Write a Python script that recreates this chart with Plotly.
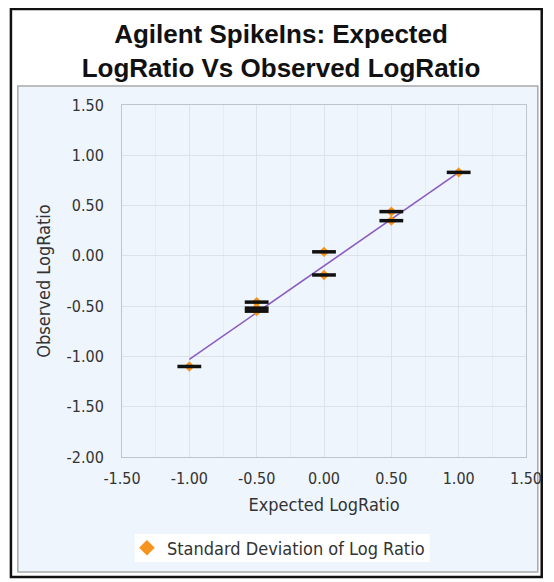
import plotly.graph_objects as go

# ---- data ----
expected = [-1.0, -0.5, -0.5, -0.5, 0.0, 0.0, 0.5, 0.5, 1.0]
observed = [-1.10, -0.46, -0.52, -0.55, 0.04, -0.19, 0.44, 0.35, 0.83]
fit_x = [-1.0, 1.0]
fit_y = [-1.03, 0.83]
x_ticks = [-1.5, -1.0, -0.5, 0.0, 0.5, 1.0, 1.5]
y_ticks = [1.5, 1.0, 0.5, 0.0, -0.5, -1.0, -1.5, -2.0]

# page body has an 8px margin, so lay out in "screen" pixels shifted by OFF
OFF = 8
W, H = 554 - OFF, 582 - OFF
PX0, PX1, PY0, PY1 = 122, 533, 105, 457          # plot area on screen
L, R, T, B = PX0 - OFF, W - (PX1 - OFF), PY0 - OFF, H - (PY1 - OFF)
pw, ph = W - L - R, H - T - B


def px(x):
    return (x - OFF - L) / pw


def py(y):
    return (H - B - (y - OFF)) / ph


FONT = "DejaVu Sans Condensed, DejaVu Sans, sans-serif"

fig = go.Figure()

fig.add_trace(go.Scatter(
    x=fit_x, y=fit_y, mode="lines",
    line=dict(color="#8a5cc2", width=1.6),
    showlegend=False, hoverinfo="skip"))

fig.add_trace(go.Scatter(
    x=expected, y=observed, mode="markers",
    name="Standard Deviation of Log Ratio",
    marker=dict(symbol="diamond", size=8, color="#f7941d",
                line=dict(width=0))))

fig.add_trace(go.Scatter(
    x=expected, y=observed, mode="markers",
    marker=dict(symbol="line-ew", size=17,
                line=dict(width=3.5, color="#111111")),
    showlegend=False))

shapes = [
    # outer black frame
    dict(type="rect", xref="paper", yref="paper",
         x0=px(9), x1=px(549), y0=py(577), y1=py(9),
         line=dict(color="#111111", width=2.5), fillcolor="white", layer="below"),
    # light-blue chart panel
    dict(type="rect", xref="paper", yref="paper",
         x0=px(16), x1=px(545), y0=py(572), y1=py(86),
         line=dict(color="#a9a9a9", width=1.5), fillcolor="#eff5fc", layer="below"),
    # legend white box
    dict(type="rect", xref="paper", yref="paper",
         x0=px(135), x1=px(435), y0=py(562), y1=py(534),
         line=dict(width=0), fillcolor="white", layer="below"),
]

fig.update_layout(
    width=W, height=H,
    margin=dict(l=L, r=R, t=T, b=B, pad=0),
    paper_bgcolor="white",
    plot_bgcolor="#eff5fc",
    shapes=shapes,
    title=dict(
        text="<b>Agilent SpikeIns: Expected<br>LogRatio Vs Observed LogRatio</b>",
        x=0.5, xref="container", xanchor="center",
        y=1 - 35 / H, yref="container", yanchor="middle",
        font=dict(family="Liberation Sans, Arial", size=26, color="#111111")),
    font=dict(family=FONT, size=16, color="#333333"),
    showlegend=True,
    legend=dict(orientation="h", x=px(127), xanchor="left",
                y=py(548), yanchor="middle", bgcolor="rgba(0,0,0,0)",
                itemsizing="constant",
                font=dict(family=FONT, size=18, color="#333333")),
    xaxis=dict(
        range=[-1.5, 1.5], tickvals=x_ticks,
        ticktext=[f"{v:.2f}" for v in x_ticks],
        showgrid=True, gridcolor="#dbe2ea", gridwidth=1,
        minor=dict(dtick=0.25, showgrid=True, gridcolor="#e7ecf2"),
        showline=True, linecolor="#bfc5cc", linewidth=1, mirror=True,
        zeroline=False, ticks="", ticklabelstandoff=7,
        title=dict(text="Expected LogRatio", standoff=11,
                   font=dict(family=FONT, size=18, color="#333333")),
        tickfont=dict(size=16)),
    yaxis=dict(
        range=[-2.0, 1.5], tickvals=y_ticks,
        ticktext=[f"{v:.2f}" for v in y_ticks],
        showgrid=True, gridcolor="#dbe2ea", gridwidth=1,
        showline=True, linecolor="#bfc5cc", linewidth=1, mirror=True,
        zeroline=False, ticks="", ticklabelstandoff=14,
        title=dict(text="Observed LogRatio", standoff=11,
                   font=dict(family=FONT, size=18, color="#333333")),
        tickfont=dict(size=16)),
)

fig.write_html("out.html")
